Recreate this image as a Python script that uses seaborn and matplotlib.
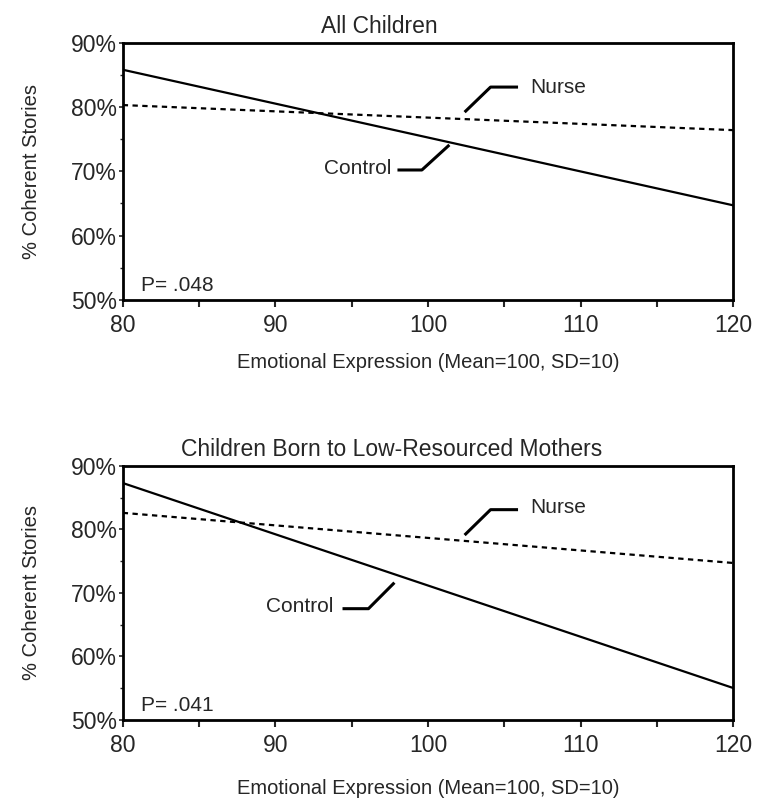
import numpy as np
import pandas as pd
import matplotlib.pyplot as plt
import matplotlib.ticker as mticker
import seaborn as sns

# --- values ---
expr_levels = [80, 120]
panel_titles = ["All Children", "Children Born to Low-Resourced Mothers"]
title_xpos = [0.42, 0.44]
p_values = ["P= .048", "P= .041"]
control_pct = [[85.8, 64.7], [87.3, 55.0]]
nurse_pct = [[80.3, 76.4], [82.6, 74.7]]

# label callouts (text anchor, leader line points) in data units
nurse_callout = [
    dict(text=(106.7, 83.1), line=([102.4, 104.1, 105.9], [79.2, 83.1, 83.1])),
    dict(text=(106.7, 83.4), line=([102.4, 104.1, 105.9], [79.1, 83.1, 83.1])),
]
control_callout = [
    dict(text=(97.6, 70.5), line=([98.0, 99.6, 101.4], [70.2, 70.2, 74.1])),
    dict(text=(93.8, 67.8), line=([94.4, 96.1, 97.8], [67.5, 67.5, 71.6])),
]

sns.set_style("ticks")
plt.rcParams["font.family"] = ["Liberation Sans", "DejaVu Sans"]

fig = plt.figure(figsize=(7.67, 8.06), dpi=100)
axes = [fig.add_axes([0.160, 0.628, 0.796, 0.319]),
        fig.add_axes([0.160, 0.107, 0.796, 0.315])]
xlabel_pad = [12, 16]

for i, ax in enumerate(axes):
    df = pd.DataFrame({
        "expr": expr_levels * 2,
        "pct": control_pct[i] + nurse_pct[i],
        "group": ["Control"] * 2 + ["Nurse"] * 2,
    })
    sns.lineplot(data=df, x="expr", y="pct", style="group", ax=ax,
                 color="black", linewidth=1.6, legend=False,
                 dashes={"Control": "", "Nurse": (2.4, 2.0)})

    ax.set_xlim(80, 120)
    ax.set_ylim(50, 90)
    ax.xaxis.set_major_locator(mticker.MultipleLocator(10))
    ax.xaxis.set_minor_locator(mticker.MultipleLocator(5))
    ax.yaxis.set_major_locator(mticker.MultipleLocator(10))
    ax.yaxis.set_minor_locator(mticker.MultipleLocator(5))
    ax.yaxis.set_major_formatter(mticker.FuncFormatter(lambda v, p: f"{v:.0f}%"))
    ax.tick_params(axis="x", which="both", direction="out", length=5, width=1.5,
                   labelsize=16.5, pad=5)
    ax.tick_params(axis="y", which="major", direction="out", length=3, width=1.2,
                   labelsize=16.5, pad=1)
    ax.tick_params(axis="y", which="minor", direction="out", length=2, width=1)
    for s in ax.spines.values():
        s.set_visible(True)
        s.set_linewidth(2)
        s.set_color("black")

    ax.set_xlabel("Emotional Expression (Mean=100, SD=10)", fontsize=14.5,
                  labelpad=xlabel_pad[i])
    ax.set_ylabel("% Coherent Stories", fontsize=14.5, labelpad=22)
    ax.set_title(panel_titles[i], fontsize=16.5, x=title_xpos[i], pad=7)

    ax.text(81.2, 52.2, p_values[i], fontsize=15, ha="left", va="center")

    nc = nurse_callout[i]
    ax.plot(*nc["line"], color="black", lw=2.2, solid_capstyle="butt")
    ax.text(*nc["text"], "Nurse", fontsize=15, ha="left", va="center")
    cc = control_callout[i]
    ax.plot(*cc["line"], color="black", lw=2.2, solid_capstyle="butt")
    ax.text(*cc["text"], "Control", fontsize=15, ha="right", va="center")

fig.savefig("out.png", dpi=100)
